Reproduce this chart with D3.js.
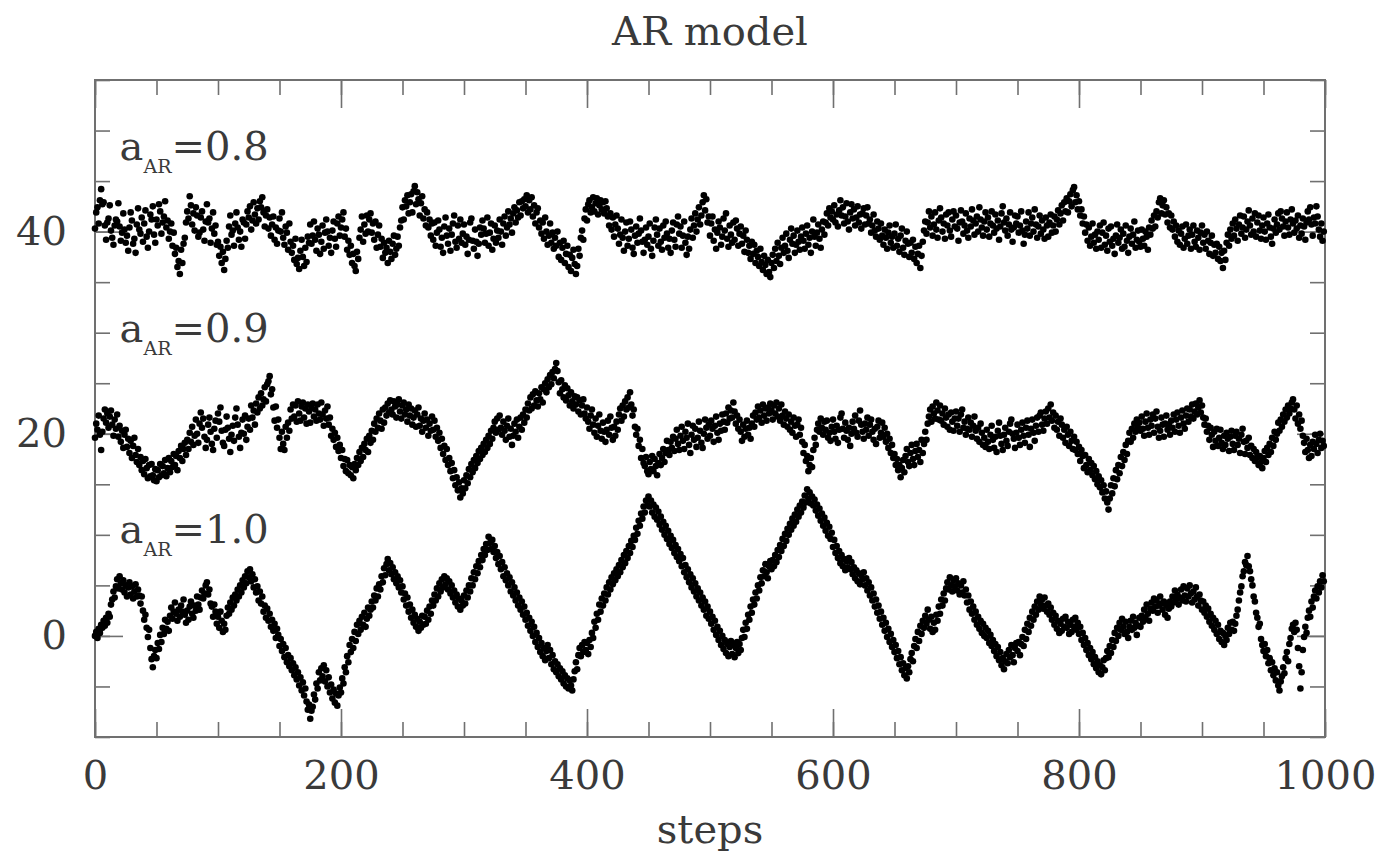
<!DOCTYPE html>
<html>
<head>
<meta charset="utf-8">
<script src="https://cdn.jsdelivr.net/npm/d3@7"></script>
<style>
body { margin: 0; background: #fff; }
text { font-family: "DejaVu Serif", serif; }
</style>
</head>
<body>
<div id="chart"></div>
<script>
//one value per step (0..999) (25 steps per line)
const ar08 = [
40.3,41.9,42.4,40.8,43.1,44.2,42.7,42.9,40.6,39.2,40.9,41.3,42.6,40.1,39.4,38.7,40.6,41.2,41.0,42.8,40.5,39.1,39.9,41.8,40.2,
38.9,39.6,38.1,40.4,41.9,41.1,38.8,39.3,37.9,40.7,42.3,40.2,39.8,41.4,39.0,40.8,42.1,39.5,38.4,40.0,41.7,41.2,42.5,39.7,38.9,
41.2,40.6,42.7,42.0,39.8,40.9,41.5,43.0,40.4,41.1,39.3,40.0,40.8,38.6,39.9,37.8,38.4,36.5,37.1,35.8,38.2,36.9,38.8,39.4,40.9,
42.0,41.3,43.5,42.6,40.7,41.8,40.1,42.4,41.6,39.5,39.9,41.4,42.0,40.2,39.1,41.0,42.7,40.9,41.3,38.9,40.3,41.9,39.8,40.6,38.7,
39.0,37.6,38.5,36.9,38.0,36.2,37.3,39.1,38.4,40.5,41.6,39.7,40.1,38.6,40.8,41.9,40.4,39.2,40.0,38.5,41.2,40.9,39.3,40.7,42.0,
41.4,42.5,40.2,41.1,42.9,41.7,40.8,42.3,41.2,43.0,42.4,43.4,41.9,40.5,41.6,42.2,40.3,41.4,39.6,40.7,41.5,39.2,40.4,38.8,40.1,
41.3,40.0,41.9,39.4,38.7,40.5,39.9,38.2,40.8,39.0,37.9,38.6,37.2,39.3,36.8,37.4,36.3,38.1,39.2,37.5,36.6,38.4,37.0,39.5,38.9,
40.7,38.8,39.6,41.0,39.2,38.1,40.3,39.7,37.8,39.0,40.6,38.3,39.9,41.2,40.0,38.6,39.4,37.9,40.1,41.0,39.3,38.5,40.8,41.5,39.6,
40.4,41.2,41.9,39.5,40.3,38.2,39.1,37.7,38.6,36.9,37.8,36.6,36.1,38.0,37.3,39.4,40.2,41.5,39.0,40.7,39.8,41.6,40.0,41.2,41.8,
39.9,40.8,39.2,41.0,38.4,39.7,40.6,38.5,39.3,37.4,38.9,37.9,38.4,36.9,39.1,38.0,37.3,38.8,39.6,37.7,38.3,39.5,38.6,40.4,41.1,
42.4,41.2,43.1,42.5,43.6,41.8,42.9,43.7,41.9,44.0,44.5,42.7,43.9,43.2,41.6,42.8,43.5,41.3,42.2,40.6,41.9,40.4,41.2,39.6,40.8,
39.2,40.9,38.6,39.9,41.1,40.2,38.5,39.4,37.9,40.5,41.4,39.6,38.8,40.3,38.1,39.7,40.8,41.6,39.0,38.4,40.6,39.3,41.2,38.9,39.8,
40.7,38.7,39.5,37.8,39.2,40.9,41.3,39.1,38.3,40.2,39.0,37.6,38.8,40.4,39.7,41.1,40.3,38.9,39.8,41.4,38.6,39.9,40.8,38.2,39.3,
40.6,38.9,40.1,39.4,41.2,40.0,38.7,40.8,41.5,39.6,40.4,42.0,40.7,41.3,39.9,41.8,42.4,40.9,42.1,41.4,42.9,41.6,43.0,42.3,43.2,
42.5,43.6,41.9,43.1,42.2,43.4,41.5,42.6,40.8,41.9,42.3,40.4,41.1,39.8,40.9,39.3,41.4,40.0,38.7,39.6,40.8,38.9,39.9,38.3,39.4,
38.6,40.0,37.5,38.9,37.2,38.4,39.1,36.9,37.8,38.6,36.5,37.7,36.1,37.4,38.2,36.8,35.8,36.6,38.3,37.6,39.4,40.1,39.2,41.3,42.2,
41.1,42.7,43.1,41.9,42.4,43.4,42.0,42.8,43.3,41.7,42.6,43.1,42.2,42.9,41.8,43.0,42.3,41.5,40.6,41.8,40.2,41.4,39.5,40.7,41.6,
40.3,38.8,39.7,41.2,39.4,38.1,40.0,40.9,38.6,39.3,41.0,40.2,38.4,37.8,39.6,40.5,38.9,39.8,41.3,40.1,39.0,37.9,39.2,40.4,38.7,
39.5,40.8,38.3,37.6,39.1,40.4,41.2,39.7,38.6,40.3,39.0,38.2,40.6,39.4,41.0,39.8,38.4,39.3,37.9,40.1,40.9,39.2,38.5,40.7,41.5,
39.8,40.5,38.4,39.6,41.0,38.9,37.7,39.5,38.3,40.2,41.3,39.4,40.6,41.8,40.0,41.2,42.4,40.7,41.6,42.9,43.6,42.1,43.2,40.9,41.5,
39.6,40.8,41.5,39.1,40.2,38.3,39.9,41.0,40.4,38.7,39.5,41.3,40.1,41.8,39.3,38.5,40.6,39.7,38.9,40.9,39.2,41.1,40.3,38.6,39.8,
40.5,38.8,39.6,38.0,40.1,39.2,37.9,38.6,37.3,39.0,37.8,38.7,36.9,38.1,37.5,36.6,38.3,37.0,36.2,37.6,36.7,35.8,37.2,36.0,35.5,
36.9,37.7,36.4,38.3,37.1,38.9,37.6,36.8,38.4,39.4,37.9,38.6,39.8,38.1,37.4,39.2,40.3,38.8,39.6,37.9,38.7,40.1,39.0,38.2,39.5,
40.4,39.1,38.3,39.8,40.6,38.7,39.4,37.9,40.0,41.2,39.5,38.6,39.9,40.7,39.3,38.4,40.2,41.0,39.7,40.9,41.8,40.6,42.3,41.4,42.0,
41.2,42.6,40.9,41.7,40.5,42.1,43.1,41.6,42.4,40.8,41.5,42.8,41.0,40.2,41.9,42.7,41.3,42.2,40.6,41.4,42.5,40.9,41.7,40.3,41.8,
42.3,40.7,41.6,42.4,40.8,41.2,39.9,40.6,41.7,40.1,39.5,41.0,40.3,39.2,40.8,39.6,38.7,40.2,39.4,38.3,39.9,40.6,38.9,39.5,38.4,
39.8,40.7,38.6,39.3,38.0,39.6,40.3,38.4,37.7,39.1,40.0,38.8,37.5,38.9,37.9,39.2,37.3,38.5,36.9,37.8,38.6,36.4,37.6,39.0,40.1,
41.0,39.8,40.9,42.0,40.4,41.5,39.6,40.7,41.9,40.2,39.4,41.1,42.3,41.4,40.0,40.8,39.3,41.7,40.6,41.9,40.1,39.5,41.2,42.0,40.5,
41.6,40.3,39.1,40.9,42.1,41.0,39.8,40.6,41.8,40.1,39.4,41.3,40.5,42.2,41.1,39.7,40.8,41.5,40.0,42.4,41.2,40.4,39.6,41.0,41.9,
40.2,41.4,39.5,40.8,42.0,40.6,39.9,41.7,40.3,41.1,39.2,40.5,41.8,42.5,40.9,40.1,41.3,39.6,40.7,41.9,40.2,39.0,40.4,41.6,40.8,
41.5,39.9,40.6,42.0,40.1,38.8,39.7,41.0,40.3,41.9,39.6,40.8,41.4,40.0,42.2,40.7,39.4,40.5,41.6,39.8,41.1,40.2,39.3,41.4,40.6,
39.5,40.9,41.7,39.9,40.6,41.5,40.0,41.2,42.1,40.7,41.8,42.6,41.1,42.9,42.0,43.3,41.9,43.0,43.7,42.5,44.1,44.4,42.9,43.6,42.2,
43.0,41.6,42.2,40.8,41.5,39.9,40.7,39.1,40.4,38.6,39.5,40.8,38.9,39.7,38.3,40.0,39.2,40.6,38.4,39.9,40.9,38.7,39.6,38.1,40.3,
39.0,40.5,38.6,39.3,37.8,39.6,40.7,38.9,39.4,40.2,38.3,39.8,38.5,40.6,39.1,37.9,39.5,40.3,38.8,39.7,41.0,38.4,39.2,40.1,39.0,
38.5,40.2,39.3,38.6,40.0,39.5,38.2,40.4,39.7,41.1,40.3,41.6,40.5,42.0,41.4,42.9,43.3,41.8,42.6,43.1,41.7,42.4,40.9,41.8,40.4,
41.6,40.2,41.0,39.5,40.6,39.0,40.1,38.7,39.8,40.5,38.4,39.3,40.7,38.8,39.6,40.2,38.3,39.7,40.6,39.0,38.5,40.1,39.4,38.2,39.9,
40.6,38.9,39.7,38.3,40.0,39.1,37.8,38.9,39.6,37.6,38.7,37.9,38.8,37.3,38.5,37.1,37.9,36.4,38.1,37.2,38.9,39.7,38.6,40.2,39.3,
40.8,39.6,41.2,40.3,39.1,40.7,41.6,39.8,40.4,41.5,39.4,40.2,41.0,42.1,40.6,39.7,41.3,40.0,41.8,39.5,40.9,41.6,40.1,39.3,40.6,
41.4,40.0,39.2,40.8,41.7,40.4,39.5,38.8,40.3,41.2,39.9,40.7,41.8,40.2,42.0,41.3,40.5,39.6,41.0,41.9,40.4,39.7,41.2,42.2,40.8,
39.9,41.1,40.3,41.6,39.4,40.6,39.8,41.3,40.5,39.2,40.9,42.0,41.2,42.4,40.7,39.6,41.4,40.8,42.5,41.5,40.2,39.5,40.8,39.1,40.0
];

const ar09 = [
19.6,21.0,20.4,21.8,19.9,18.4,20.2,21.5,22.4,21.1,22.0,20.6,21.7,22.3,20.9,19.8,21.4,20.5,21.9,19.7,20.8,19.2,20.3,18.6,19.9,
20.4,18.7,19.5,18.1,19.3,17.6,18.8,19.6,17.9,17.2,18.5,16.9,17.7,16.4,17.3,16.0,17.5,16.6,15.6,16.9,15.8,17.0,15.9,15.4,16.5,
15.3,16.4,15.7,17.0,15.9,16.8,16.1,17.4,15.8,16.6,17.6,16.2,17.3,16.7,18.0,16.9,17.8,16.4,18.3,17.6,18.8,17.3,18.5,19.1,17.9,
19.4,18.5,20.1,19.2,20.7,18.9,19.8,21.4,20.0,19.1,21.0,22.1,20.6,21.5,19.7,18.6,19.4,20.9,21.6,20.2,19.0,18.4,20.5,21.3,19.6,
22.0,21.2,22.6,20.3,19.1,18.8,20.4,21.7,20.6,19.5,18.2,19.9,20.8,19.3,21.6,22.5,20.9,19.7,18.6,20.1,21.4,20.0,21.8,19.4,20.7,
21.5,20.4,22.8,21.6,22.3,20.9,23.0,22.1,23.6,22.5,24.0,22.8,23.4,24.6,23.2,24.9,25.2,25.7,23.9,24.4,22.6,21.3,22.7,20.6,21.4,
19.6,18.5,20.2,19.0,18.4,20.7,19.6,21.1,20.3,22.4,21.5,22.9,21.7,22.8,21.2,23.2,22.0,21.3,22.7,23.1,21.6,22.5,21.0,22.9,22.2,
21.1,22.6,23.0,21.7,22.4,21.3,22.9,22.0,21.4,23.1,21.9,20.8,22.3,21.5,22.7,20.9,21.6,19.8,20.5,19.4,20.1,18.7,19.6,18.3,18.9,
17.6,18.4,16.8,17.5,16.3,17.4,16.1,16.9,15.9,16.7,15.6,17.0,16.4,17.6,16.9,18.2,17.3,18.6,17.7,19.0,18.4,19.5,18.2,19.8,19.1,
20.3,19.4,21.0,20.2,21.5,20.6,22.0,21.3,20.5,22.4,21.1,22.6,21.8,23.0,22.1,23.3,22.4,21.9,23.2,22.7,21.6,22.9,23.4,22.2,21.5,
22.8,23.1,21.9,22.4,21.2,22.9,21.8,22.5,20.9,21.6,22.3,20.7,21.9,22.6,20.8,21.5,20.2,21.3,22.0,20.6,21.4,19.8,21.0,20.3,21.7,
20.4,21.3,19.7,20.6,19.3,20.1,18.6,19.5,18.0,18.8,17.4,18.5,16.9,17.6,16.3,17.1,15.6,16.4,14.9,15.7,14.4,15.2,13.7,14.6,14.1,
15.4,14.6,15.9,15.1,16.5,15.7,17.0,16.2,17.4,16.6,17.8,17.1,18.3,17.5,18.6,17.9,19.0,18.2,19.4,18.6,19.8,19.0,20.3,19.5,20.6,
21.2,20.1,21.5,20.4,21.8,20.6,19.9,21.2,20.3,19.4,20.8,21.5,19.7,20.5,18.9,19.8,21.0,20.2,21.4,19.6,20.7,21.6,20.4,21.9,21.1,
22.4,21.6,23.0,22.3,23.6,22.5,23.9,22.8,24.2,23.3,22.7,24.0,23.4,24.6,23.1,24.4,25.0,24.1,25.4,24.6,25.8,24.9,26.1,25.5,26.4,
27.0,26.2,25.1,24.0,25.3,24.4,23.6,24.8,23.3,24.5,23.8,22.8,24.1,23.2,22.5,23.7,22.9,23.6,22.2,23.3,21.9,22.8,23.4,22.0,21.5,
22.6,21.2,20.5,21.8,22.4,20.9,20.1,21.5,19.7,20.8,21.9,20.3,19.5,21.1,20.2,19.2,20.4,21.3,19.9,21.7,20.6,19.4,20.7,19.8,21.2,
20.4,21.9,22.5,21.3,22.8,21.7,23.2,22.4,23.6,22.6,24.1,22.9,21.8,22.4,20.7,19.9,20.5,18.8,19.4,17.6,18.5,17.1,16.8,17.7,16.3,
16.0,17.2,16.5,17.8,16.3,17.5,16.8,15.9,17.1,18.0,16.9,17.6,18.5,17.2,18.1,19.3,18.4,17.9,19.2,18.6,19.7,18.3,19.5,20.4,19.0,
18.4,19.8,20.7,19.3,18.5,20.2,19.6,21.0,18.9,18.1,19.9,20.8,19.4,20.5,18.7,19.6,21.2,20.3,19.1,18.6,20.0,21.4,20.6,19.5,20.9,
19.8,21.3,20.5,19.2,20.8,21.7,20.1,19.4,21.0,20.3,21.9,21.2,20.4,22.0,21.1,22.6,21.5,22.3,21.6,23.1,22.2,21.0,21.8,20.5,21.4,
20.2,19.3,20.9,19.7,20.5,21.3,19.9,20.6,19.5,21.0,21.8,20.7,22.1,21.4,22.7,21.6,22.3,21.1,22.9,21.8,22.5,21.3,22.6,22.0,23.0,
22.3,21.4,22.8,22.0,23.1,21.7,22.5,21.3,22.9,21.8,20.9,22.2,21.5,20.7,21.9,20.4,21.2,20.1,21.6,20.8,19.7,20.9,21.4,19.9,20.6,
19.2,18.1,18.9,17.3,17.8,16.3,16.9,17.6,16.7,18.4,19.6,18.9,20.4,21.0,20.2,21.5,20.6,19.9,21.2,20.4,21.3,19.6,20.1,19.3,20.7,
21.4,20.2,19.5,20.8,19.1,20.4,21.6,22.0,20.5,19.6,21.1,20.3,19.4,20.6,18.8,20.0,21.2,20.5,21.8,20.1,19.7,21.3,22.3,20.9,20.2,
19.5,21.0,20.4,21.6,19.8,20.9,21.4,20.2,19.4,20.5,19.0,20.7,21.3,19.6,20.1,21.1,19.7,20.6,19.2,20.0,18.6,19.5,18.1,18.9,17.6,
18.0,16.9,17.5,16.4,16.9,15.7,16.6,17.4,16.2,17.8,18.5,17.2,16.8,18.1,18.9,17.5,16.9,18.3,19.0,17.7,18.4,17.2,19.4,18.1,19.0,
20.2,19.4,21.0,21.7,22.4,21.2,22.7,22.0,21.5,23.1,22.3,21.4,22.8,21.3,22.0,20.9,22.5,21.6,20.7,21.9,20.4,22.1,21.2,20.3,21.5,
22.2,20.8,21.5,20.2,21.9,22.4,20.6,21.2,19.9,20.5,21.6,20.4,21.1,19.7,20.8,21.7,20.3,19.5,20.6,19.2,21.0,20.1,18.9,19.6,18.7,
20.4,19.2,18.5,19.9,20.8,19.4,18.6,19.7,18.2,20.3,21.1,19.8,19.0,18.4,19.9,20.6,19.3,18.8,20.2,21.0,21.4,20.0,19.5,18.6,20.1,
20.9,19.6,18.9,20.4,21.1,19.8,19.1,20.6,21.3,19.9,18.7,20.5,21.4,20.1,19.3,20.8,21.6,20.2,21.8,22.1,20.9,20.3,21.5,22.2,21.0,
22.5,21.6,22.9,21.3,22.1,20.6,21.8,20.4,21.2,19.8,21.5,20.9,19.6,20.4,19.1,20.7,19.9,18.8,20.2,19.3,18.5,19.7,18.4,19.2,18.0,
18.7,17.3,18.4,17.8,16.6,17.9,16.9,16.2,17.5,16.4,17.1,15.9,16.8,15.5,16.3,15.0,15.8,14.7,15.4,14.2,14.9,13.6,14.3,13.2,12.5,
13.6,14.9,14.1,15.6,14.8,16.4,15.5,16.9,16.1,17.7,16.8,18.2,17.4,18.9,18.0,19.3,20.1,19.2,20.5,19.6,21.0,20.2,21.4,20.6,21.1,
20.3,21.7,20.5,19.8,21.2,22.0,20.6,19.9,21.4,20.8,21.9,20.1,21.5,22.2,20.7,19.6,20.3,21.6,20.9,19.7,21.0,21.8,20.4,20.9,19.9,
21.3,20.6,21.9,20.2,21.4,22.1,20.8,20.1,21.6,22.3,21.0,20.5,21.8,22.5,21.2,22.4,21.7,22.9,21.5,22.2,23.0,21.9,22.6,23.3,22.1,
22.8,21.6,20.9,21.5,20.2,20.8,19.4,20.6,19.9,18.7,20.2,19.3,20.5,18.8,19.6,20.4,19.1,18.5,19.8,18.9,20.1,19.5,18.3,19.7,20.3,
19.0,18.4,19.8,20.2,18.9,19.5,18.1,19.9,20.5,19.2,18.0,19.3,18.6,19.6,17.9,18.8,17.6,18.5,17.3,18.2,17.7,16.9,17.8,17.2,16.6,
17.6,18.3,17.2,18.6,17.9,19.0,18.2,19.6,18.8,20.2,19.4,20.0,21.1,20.3,21.4,20.7,21.9,21.2,22.4,21.6,22.8,22.0,22.5,23.1,23.4,
22.4,21.5,22.8,21.0,21.9,20.5,21.3,19.8,19.1,18.2,19.5,18.4,17.6,18.9,17.8,19.2,18.5,19.9,19.0,18.1,19.4,20.0,18.6,19.3,18.8
];

const ar10 = [
0.0,0.4,-0.2,0.7,0.3,1.1,0.8,1.5,1.0,1.8,1.3,2.2,1.9,3.1,3.6,4.4,3.8,4.9,5.6,4.7,5.9,5.2,4.6,5.5,4.3,
5.0,3.9,4.8,5.3,4.1,4.9,3.7,4.4,5.1,3.9,4.6,4.0,3.2,3.9,2.5,1.6,2.1,0.8,-0.1,0.6,-1.2,-2.3,-3.1,-2.0,-1.4,
-2.2,-0.7,-1.3,0.1,-0.6,0.8,0.2,1.6,0.7,1.4,0.5,2.0,2.8,1.7,2.4,3.3,2.2,1.5,2.6,1.9,3.0,2.4,3.6,2.1,1.3,
2.5,1.6,2.9,3.4,2.2,1.8,3.0,2.5,3.9,3.1,2.6,3.8,4.5,3.7,4.2,5.0,5.3,4.1,4.6,3.2,2.9,1.9,3.1,2.4,1.2,
1.9,0.8,2.4,1.5,0.4,1.2,0.6,2.0,2.8,2.2,3.3,2.6,3.8,3.0,4.1,3.5,4.6,3.9,5.0,4.3,5.5,4.8,5.9,5.2,6.4,
5.8,6.6,5.4,6.1,4.8,5.6,4.3,4.9,3.5,4.4,3.2,3.9,2.4,3.0,1.8,2.7,1.5,2.2,0.9,1.6,0.5,1.2,-0.2,0.7,0.1,
-1.0,-0.3,-1.5,-0.8,-2.1,-1.2,-2.6,-1.9,-3.0,-2.2,-3.4,-2.7,-3.9,-3.1,-4.3,-3.6,-4.9,-4.1,-5.4,-4.6,-5.9,-5.2,-6.5,-7.3,-6.8,
-8.2,-7.4,-7.0,-5.8,-6.3,-4.7,-5.2,-3.6,-4.4,-3.2,-4.0,-2.9,-4.5,-3.4,-5.0,-4.1,-5.6,-4.8,-6.2,-5.3,-6.6,-5.7,-6.9,-5.9,-5.1,
-5.6,-4.2,-4.7,-3.1,-3.6,-2.0,-2.6,-0.9,-1.6,-0.3,-1.2,0.4,-0.5,1.1,0.2,1.5,0.6,1.9,1.1,2.3,0.9,1.7,2.8,2.0,2.6,
3.4,2.8,4.0,3.5,4.7,3.9,5.1,4.6,5.9,5.3,6.7,6.0,7.1,7.6,6.5,7.2,6.1,6.8,5.6,6.3,5.2,5.9,4.8,5.5,4.3,
4.9,3.6,4.2,3.0,3.8,2.4,3.1,1.8,2.6,1.3,2.1,0.9,1.7,0.5,1.4,0.8,2.0,1.1,1.9,1.2,2.5,1.6,2.9,2.2,3.5,
3.0,4.1,3.5,4.7,3.9,5.2,4.4,5.6,4.8,5.9,5.1,5.7,4.6,5.4,4.2,5.0,3.8,4.5,3.3,4.1,2.9,3.7,2.6,3.5,3.0,
4.0,3.2,4.5,3.8,5.0,4.4,5.7,5.0,6.3,5.6,6.9,6.2,7.4,6.8,8.0,7.5,8.6,8.0,9.1,8.5,9.8,9.2,8.6,9.5,8.3,
8.9,7.7,8.3,7.1,7.9,6.6,7.3,5.9,6.8,5.5,6.2,5.0,5.8,4.4,5.3,4.0,4.8,3.5,4.3,3.0,3.8,2.6,3.4,2.1,2.9,
1.6,2.3,1.0,1.8,0.5,1.4,0.0,0.9,-0.6,0.3,-1.1,-0.2,-1.6,-0.7,-2.0,-1.2,-2.4,-1.5,-0.9,-2.2,-1.4,-2.8,-1.9,-3.3,-2.5,
-3.6,-2.8,-4.0,-3.2,-4.3,-3.5,-4.7,-3.9,-5.0,-4.2,-5.2,-4.4,-4.9,-5.4,-4.3,-3.5,-2.6,-3.3,-1.9,-1.2,-2.0,-0.9,-1.6,-0.6,-1.4,
-0.7,-1.8,-0.4,-1.1,0.3,-0.2,1.4,0.8,2.2,1.6,3.1,2.4,3.7,3.0,4.2,3.5,4.8,4.1,5.3,4.6,5.8,5.1,6.2,5.5,6.6,
5.9,7.0,6.3,7.5,6.8,8.0,7.2,8.4,7.7,8.9,8.2,9.4,8.8,9.9,9.5,10.7,10.1,11.4,10.9,12.1,11.6,12.8,12.2,13.4,12.9,
13.8,12.8,13.4,12.2,13.0,11.8,12.7,11.5,12.3,11.0,11.8,10.5,11.3,10.0,10.9,9.6,10.4,9.1,9.9,8.7,9.5,8.2,9.0,7.8,8.6,
7.4,8.1,6.9,7.7,6.3,7.0,5.8,6.6,5.3,6.1,4.8,5.7,4.4,5.2,3.9,4.7,3.5,4.3,3.0,3.8,2.6,3.4,2.0,2.9,1.7,
2.4,1.2,1.9,0.6,1.5,0.1,0.9,-0.4,0.5,-0.9,0.0,-1.3,-0.4,-1.7,-0.8,-2.0,-1.1,-0.5,-1.8,-0.9,-2.1,-1.2,-0.6,-1.7,-0.8,
-1.4,-0.2,0.6,-0.1,1.3,0.7,2.1,1.6,2.9,2.3,3.6,3.1,4.3,3.7,5.0,4.5,5.8,5.2,6.5,5.9,7.1,6.3,5.7,6.9,7.4,
6.6,7.5,6.9,8.0,7.3,8.5,7.8,9.0,8.4,9.6,8.9,10.1,9.4,10.6,10.0,11.1,10.5,11.6,10.9,12.0,11.3,12.5,11.8,12.9,12.2,
13.3,12.7,13.9,13.2,14.5,13.6,14.2,13.1,13.8,12.9,13.5,12.4,13.0,11.9,12.6,11.4,12.1,10.9,11.7,10.4,11.2,9.9,10.8,9.6,10.2,
8.8,9.5,8.2,8.9,7.7,8.4,7.2,8.0,6.9,7.6,6.5,7.4,6.8,7.7,6.6,7.3,6.1,6.8,5.7,6.5,5.4,6.2,5.1,6.0,5.6,
6.3,5.0,5.7,4.5,5.3,4.0,4.8,3.5,4.2,2.9,3.6,2.3,3.0,1.7,2.4,1.1,1.8,0.5,1.3,-0.1,0.7,-0.6,0.2,-1.1,-0.4,
-1.6,-0.9,-2.2,-1.5,-2.8,-2.1,-3.4,-2.7,-3.9,-3.2,-4.2,-3.0,-3.6,-2.3,-1.7,-2.5,-1.0,-0.3,-1.2,0.4,-0.5,1.0,0.2,1.5,0.8,
2.0,1.2,2.6,1.6,0.7,1.9,0.4,1.3,0.6,2.1,1.5,2.9,2.2,3.6,3.0,4.2,3.5,4.7,5.3,4.6,5.8,5.0,4.4,5.5,4.9,
5.7,4.5,5.2,4.1,5.0,4.3,5.4,4.0,4.6,3.3,4.0,2.6,3.4,2.2,2.9,1.6,2.4,1.1,1.9,0.7,1.5,0.3,1.2,0.0,0.8,
-0.2,0.5,-0.7,0.1,-1.0,-0.4,-1.5,-0.8,-2.0,-1.1,-2.4,-1.6,-2.9,-2.2,-3.3,-2.5,-1.8,-2.7,-1.4,-2.1,-0.9,-1.9,-2.6,-1.2,-0.7,
-1.5,-0.6,-1.9,-0.8,-0.1,-1.0,0.6,-0.3,1.2,0.4,1.8,1.0,2.4,1.6,2.9,2.1,3.4,2.6,3.9,3.1,3.6,2.7,3.8,3.0,2.4,
3.2,2.1,2.8,1.6,2.3,1.1,2.0,0.7,1.5,0.3,1.2,0.5,1.7,0.9,1.9,0.8,1.4,0.2,1.1,0.4,1.6,0.9,1.8,0.6,1.3,
0.2,0.9,-0.4,0.3,-0.9,-0.2,-1.4,-0.7,-1.9,-1.2,-2.3,-1.6,-2.8,-2.1,-3.2,-2.5,-3.6,-2.9,-3.8,-3.1,-2.4,-3.4,-2.2,-1.5,-2.1,
-1.0,-1.7,-0.4,-1.1,0.3,-0.5,0.8,0.0,1.3,0.6,1.7,0.9,0.2,1.4,0.4,-0.2,0.9,1.5,0.6,1.9,0.8,1.3,0.1,1.0,1.8,
0.9,2.0,1.4,2.6,1.8,3.1,2.2,1.5,2.7,3.3,2.5,3.7,2.9,3.5,2.3,3.0,3.9,3.2,2.6,3.4,2.1,3.0,1.8,2.7,3.4,
2.9,3.9,3.3,4.5,3.6,4.1,3.1,3.8,4.6,3.5,4.9,4.0,3.4,4.7,3.9,5.0,4.2,3.3,4.4,3.6,4.8,3.9,3.0,4.1,3.5,
2.6,3.4,2.3,3.0,1.9,2.7,1.4,2.2,1.0,1.8,0.6,1.5,0.2,1.1,-0.3,0.5,-0.6,0.3,-0.9,0.0,-0.4,0.8,0.2,1.3,0.6,
1.4,0.5,1.2,2.0,2.6,3.5,4.3,4.9,5.9,6.4,7.3,7.0,7.9,6.9,6.4,5.6,5.0,3.9,3.4,2.3,1.8,0.9,1.2,-0.3,-0.9,
-1.5,-0.8,-2.0,-1.4,-2.7,-2.2,-3.4,-2.6,-3.9,-3.2,-4.4,-3.6,-4.9,-5.4,-4.5,-4.0,-3.1,-3.7,-2.2,-1.6,-2.5,-0.8,-0.2,0.7,1.1,
0.4,1.3,0.6,-1.2,-3.0,-5.2,-3.6,-1.4,-0.1,0.9,0.3,1.8,2.5,1.9,3.4,2.8,3.9,4.5,3.7,4.9,4.3,5.4,4.8,6.0,5.4
];

const seriesList = [ar08, ar09, ar10];
const seriesCoefs = ['0.8', '0.9', '1.0'];
//where each coefficient label sits, in data units (step, value of baseline)
const labelSteps = [20, 20, 20];
const labelValues = [47.1, 29.1, 9.2];

const xMajorTicks = [0, 200, 400, 600, 800, 1000];
const xMinorTicks = d3.range(0, 1001, 50);
const yMajorTicks = [0, 20, 40];
const yMinorTicks = d3.range(-10, 56, 5);

const W = 1386, H = 855;
const margin = { top: 80, right: 61, bottom: 118, left: 95 };
const frameColor = '#707070';
const textColor = '#3a3a3a';

const svg = d3.select('#chart').append('svg')
    .attr('width', W)
    .attr('height', H)
    .style('display', 'block');

const x = d3.scaleLinear().domain([0, 1000]).range([margin.left, W - margin.right]);
const y = d3.scaleLinear().domain([-10, 55]).range([H - margin.bottom, margin.top]);

//ticks point inward on all four sides, long ones at labelled values
function styleAxis(g) {
    g.select('.domain').remove();
    g.selectAll('.tick line').attr('stroke', frameColor).attr('stroke-width', 1.6);
    g.selectAll('.tick text')
        .attr('fill', textColor)
        .style('font-family', '"DejaVu Serif", serif')
        .style('font-size', '40px');
}

const bottomY = y.range()[0], topY = y.range()[1];
const leftX = x.range()[0], rightX = x.range()[1];

svg.append('g').attr('transform', `translate(0,${bottomY})`)
    .call(d3.axisBottom(x).tickValues(xMinorTicks).tickSize(-15).tickFormat(''))
    .call(styleAxis);
svg.append('g').attr('transform', `translate(0,${bottomY})`)
    .call(d3.axisBottom(x).tickValues(xMajorTicks).tickSize(-28).tickPadding(24).tickFormat(d3.format('d')))
    .call(styleAxis);
svg.append('g').attr('transform', `translate(0,${topY})`)
    .call(d3.axisTop(x).tickValues(xMinorTicks).tickSize(-15).tickFormat(''))
    .call(styleAxis);
svg.append('g').attr('transform', `translate(0,${topY})`)
    .call(d3.axisTop(x).tickValues(xMajorTicks).tickSize(-28).tickFormat(''))
    .call(styleAxis);

svg.append('g').attr('transform', `translate(${leftX},0)`)
    .call(d3.axisLeft(y).tickValues(yMinorTicks).tickSize(-15).tickFormat(''))
    .call(styleAxis);
svg.append('g').attr('transform', `translate(${leftX},0)`)
    .call(d3.axisLeft(y).tickValues(yMajorTicks).tickSize(-28).tickPadding(28).tickFormat(d3.format('d')))
    .call(styleAxis);
svg.append('g').attr('transform', `translate(${rightX},0)`)
    .call(d3.axisRight(y).tickValues(yMinorTicks).tickSize(-15).tickFormat(''))
    .call(styleAxis);
svg.append('g').attr('transform', `translate(${rightX},0)`)
    .call(d3.axisRight(y).tickValues(yMajorTicks).tickSize(-28).tickFormat(''))
    .call(styleAxis);

//plot frame
svg.append('rect')
    .attr('x', leftX).attr('y', topY)
    .attr('width', rightX - leftX).attr('height', bottomY - topY)
    .attr('fill', 'none')
    .attr('stroke', frameColor)
    .attr('stroke-width', 2);

//dots
seriesList.forEach(function(vals) {
    svg.append('g').selectAll('circle')
        .data(vals)
      .enter().append('circle')
        .attr('cx', (d, i) => x(i))
        .attr('cy', d => y(d))
        .attr('r', 3.3)
        .attr('fill', '#000');
});

//coefficient labels  a_AR = ...
seriesCoefs.forEach(function(c, i) {
    const t = svg.append('text')
        .attr('x', x(labelSteps[i]))
        .attr('y', y(labelValues[i]))
        .attr('fill', textColor)
        .style('font-size', '40px');
    t.append('tspan').text('a');
    t.append('tspan').attr('dy', 13).style('font-size', '19px').text('AR');
    t.append('tspan').attr('dy', -13).text('=' + c);
});

//title and axis title
svg.append('text')
    .attr('x', (leftX + rightX) / 2)
    .attr('y', 45)
    .attr('text-anchor', 'middle')
    .attr('fill', textColor)
    .style('font-size', '40px')
    .text('AR model');

svg.append('text')
    .attr('x', (leftX + rightX) / 2)
    .attr('y', 843)
    .attr('text-anchor', 'middle')
    .attr('fill', textColor)
    .style('font-size', '40px')
    .text('steps');
</script>
</body>
</html>
